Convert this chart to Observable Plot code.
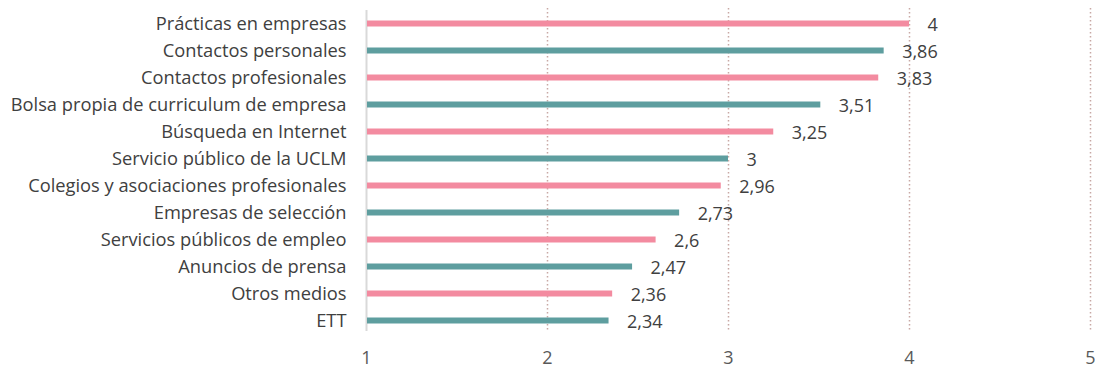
<!DOCTYPE html>
<html>
<head>
<meta charset="utf-8">
<script src="https://cdn.jsdelivr.net/npm/d3@7"></script>
<script src="https://cdn.jsdelivr.net/npm/@observablehq/plot@0.6"></script>
<style>
  html, body { margin: 0; padding: 0; background: #fff; }
  #chart svg { display: block; }
</style>
</head>
<body>
<div id="chart"></div>
<script>
const categories = [
  "Prácticas en empresas",
  "Contactos personales",
  "Contactos profesionales",
  "Bolsa propia de curriculum de empresa",
  "Búsqueda en Internet",
  "Servicio público de la UCLM",
  "Colegios y asociaciones profesionales",
  "Empresas de selección",
  "Servicios públicos de empleo",
  "Anuncios de prensa",
  "Otros medios",
  "ETT"
];
const values = [4, 3.86, 3.83, 3.51, 3.25, 3, 2.96, 2.73, 2.6, 2.47, 2.36, 2.34];
const barColors = ["#F38BA0", "#5E9E9F"];
const xTicks = [1, 2, 3, 4, 5];
const gridTicks = [2, 3, 4, 5];

const data = categories.map((c, i) => ({category: c, value: values[i], color: barColors[i % 2]}));
const fmt = v => String(v).replace(".", ",");

const chart = Plot.plot({
  width: 1095,
  height: 371,
  marginTop: 10,
  marginBottom: 37,
  marginLeft: 366,
  marginRight: 5,
  style: {fontFamily: "'Open Sans', sans-serif", background: "#fff"},
  x: {domain: [1, 5], ticks: xTicks, tickSize: 0, label: null, tickFormat: d => d},
  y: {domain: categories, padding: 0, tickSize: 0, label: null},
  marks: [
    Plot.ruleX(gridTicks, {stroke: "#C8A8A4", strokeWidth: 1.5, strokeDasharray: "1.5,2.5", insetTop: -2, insetBottom: 2}),
    Plot.ruleX([1], {stroke: "#D9D9D9", strokeWidth: 2, insetTop: 0, insetBottom: 3}),
    Plot.barX(data, {y: "category", x1: 1, x2: "value", fill: "color", insetTop: 10.5, insetBottom: 10.5, insetLeft: 1}),
    Plot.text(data, {y: "category", x: "value", text: d => fmt(d.value), textAnchor: "start", dx: 18, dy: 1, fontSize: 18, fill: "#404040"}),
    Plot.axisY({tickSize: 0, tickPadding: 20, fontSize: 18.3, color: "#404040"}),
    Plot.axisX(xTicks, {tickSize: 0, tickPadding: 17, fontSize: 18, color: "#595959", tickFormat: d => d})
  ]
});
document.getElementById("chart").appendChild(chart);
</script>
</body>
</html>
